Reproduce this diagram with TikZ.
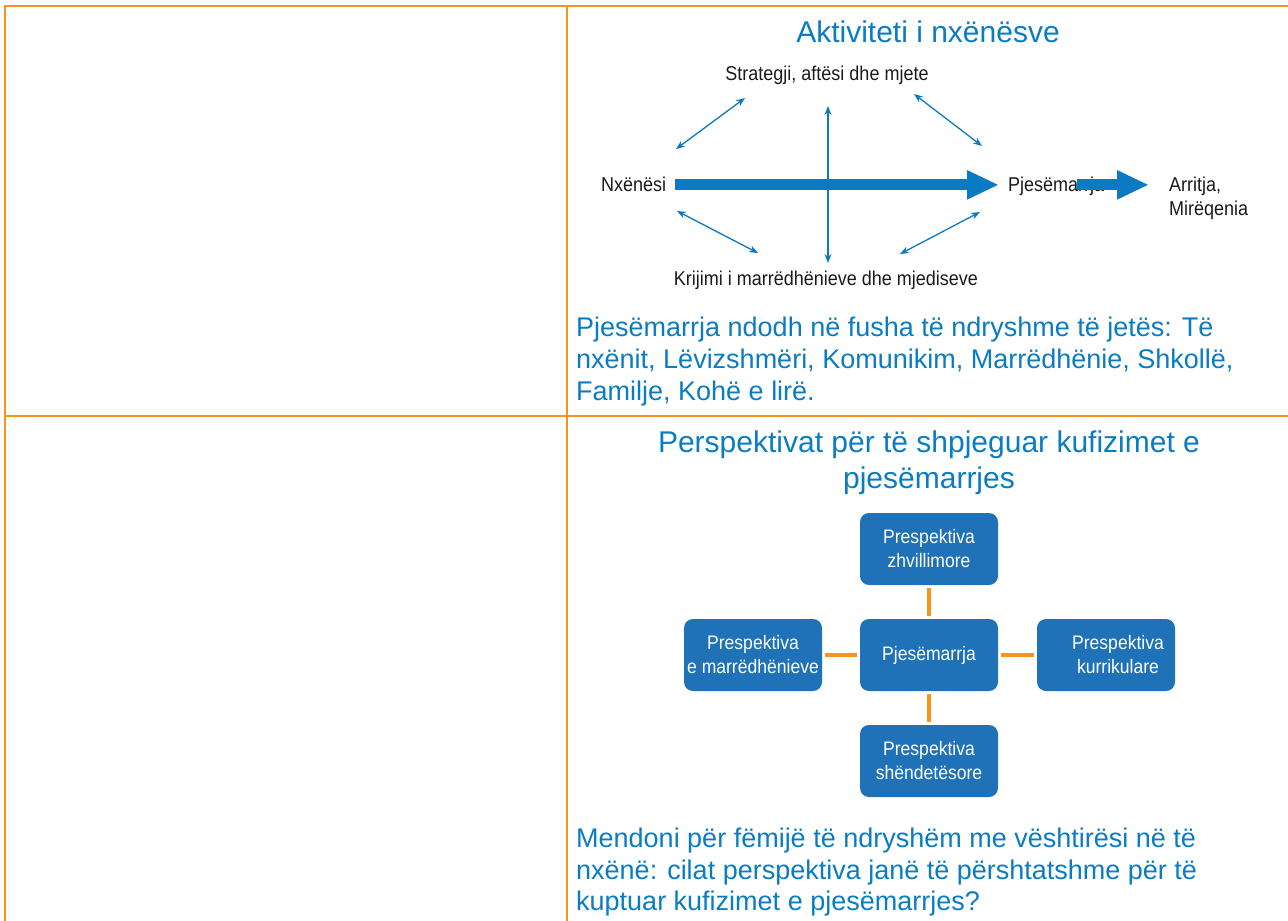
\documentclass[tikz,border=0pt]{standalone}
\usepackage{fontspec}
\setmainfont{Liberation Sans}
\newfontfamily\bluefont{Liberation Sans}
\newfontfamily\condfont[FakeStretch=0.9]{Liberation Sans}
\usetikzlibrary{arrows.meta,calc}
\definecolor{tblorange}{HTML}{F7941D}
\definecolor{txtblue}{HTML}{0A7CC2}
\definecolor{arrblue}{HTML}{0A7BC3}
\definecolor{boxblue}{HTML}{1F72B8}
\definecolor{lblack}{HTML}{1A1A1A}
\begin{document}
\begin{tikzpicture}[x=1pt,y=-1pt,
  tline/.style={draw=tblorange,line width=2pt},
  lbl/.style={inner sep=0pt,text=lblack,font=\condfont\fontsize{20}{24}\selectfont},
  para/.style={inner sep=0pt,anchor=base west,text=txtblue,font=\bluefont\fontsize{27}{32}\selectfont},
  ttl/.style={inner sep=0pt,anchor=base,text=txtblue,font=\bluefont\fontsize{30}{36}\selectfont},
  bigarrow/.style={draw=arrblue,line width=11pt,-{Triangle[length=32pt,width=27pt]}},
  dblarrow/.style={draw=arrblue,line width=1.3pt,{Stealth[length=9pt,width=7pt]}-{Stealth[length=9pt,width=7pt]}},
  pbox/.style={fill=boxblue,rounded corners=9pt,minimum width=138pt,minimum height=72pt,inner sep=0pt,text=white,align=center,font=\condfont\fontsize{19.5}{24}\selectfont},
  plab/.style={inner sep=0pt,text=white,align=center,font=\condfont\fontsize{19.5}{24}\selectfont},
  oconn/.style={draw=tblorange,line width=4.5pt,shorten <=3pt,shorten >=3pt}
]
\useasboundingbox (0,0) rectangle (1288,921);
% table lines
\draw[tline] (4,6) -- (1288,6);
\draw[tline] (5,6) -- (5,921);
\draw[tline] (567,6) -- (567,921);
\draw[tline] (5,416) -- (1288,416);

% ---- section 1
\node[ttl] (t1) at (928,42) {Aktiviteti i nxënësve};
\node[lbl,anchor=base] (st) at (827,80) {Strategji, aftësi dhe mjete};
\node[lbl,anchor=base west] (nx) at (601,191) {Nxënësi};
\node[lbl,anchor=base west] (pj) at (1008,191) {Pjesëmarrja};
\node[lbl,anchor=base west] (ar1) at (1169,191) {Arritja,};
\node[lbl,anchor=base west] (ar2) at (1169,215) {Mirëqenia};
\node[lbl,anchor=base] (kr) at (826,285) {Krijimi i marrëdhënieve dhe mjediseve};

\coordinate (ul1) at (676,149); \coordinate (ul2) at (745,98);
\coordinate (ur1) at (914,94);  \coordinate (ur2) at (982,146);
\coordinate (ll1) at (677,211); \coordinate (ll2) at (758,253);
\coordinate (lr1) at (900,254); \coordinate (lr2) at (980,212);
\coordinate (vt) at (828,106);  \coordinate (vb) at (828,263);

\draw[dblarrow] (ul1) -- (ul2);
\draw[dblarrow] (ur1) -- (ur2);
\draw[dblarrow] (ll1) -- (ll2);
\draw[dblarrow] (lr1) -- (lr2);
\draw[dblarrow] (vt) -- (vb);

\coordinate (a1s) at ($(nx.east)+(9,1)$);
\coordinate (a1e) at ($(a1s -| pj.west)+(-9,0)$);
\draw[bigarrow] (a1s) -- (a1e);
\coordinate (a2e) at ($(a1s -| ar1.west)+(-20,0)$);
\coordinate (a2s) at ($(a2e)+(-72,0)$);
\draw[bigarrow] (a2s) -- (a2e);

\node[para] (p1a) at (576,336) {Pjesëmarrja ndodh në fusha të ndryshme të jetës: Të};
\node[para] (p1b) at (576,368) {nxënit, Lëvizshmëri, Komunikim, Marrëdhënie, Shkollë,};
\node[para] (p1c) at (576,400) {Familje, Kohë e lirë.};

% ---- section 2
\node[ttl] (t2a) at (929,452) {Perspektivat për të shpjeguar kufizimet e};
\node[ttl] (t2b) at (929,488) {pjesëmarrjes};

\node[pbox] (bt) at (929,549) {Prespektiva\\zhvillimore};
\node[pbox] (bl) at (753,655) {Prespektiva\\e marrëdhënieve};
\node[pbox] (bc) at (929,655) {Pjesëmarrja};
\node[pbox] (br) at (1106,655) {};
\node[plab] (brl) at (1118,655) {Prespektiva\\kurrikulare};
\node[pbox] (bb) at (929,761) {Prespektiva\\shëndetësore};

\draw[oconn] (bt) -- (bc);
\draw[oconn] (bl) -- (bc);
\draw[oconn] (bc) -- (br);
\draw[oconn] (bc) -- (bb);

\node[para] (p2a) at (576,847) {Mendoni për fëmijë të ndryshëm me vështirësi në të};
\node[para] (p2b) at (576,879) {nxënë: cilat perspektiva janë të përshtatshme për të};
\node[para] (p2c) at (576,910) {kuptuar kufizimet e pjesëmarrjes?};
\end{tikzpicture}
\end{document}
